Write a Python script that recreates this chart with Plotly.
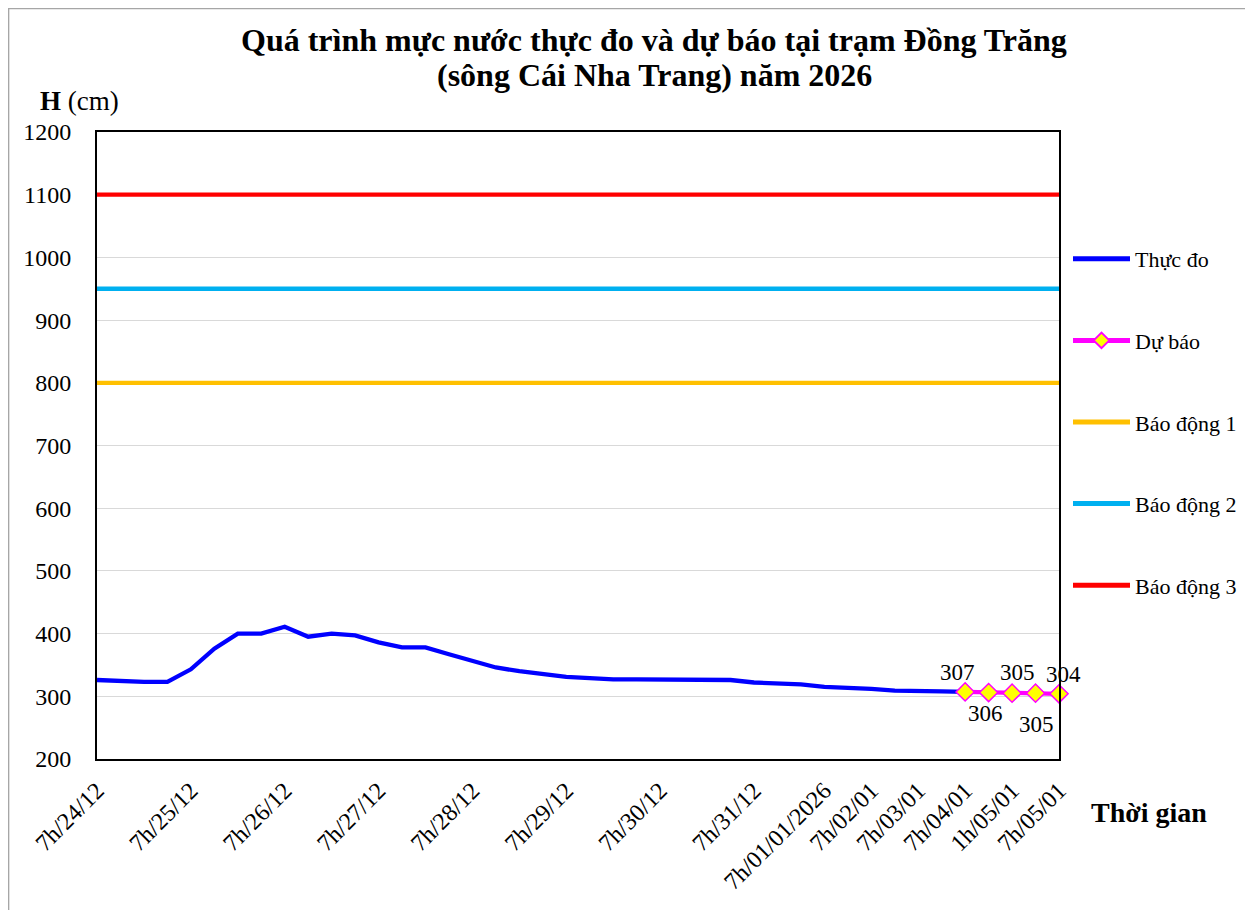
import plotly.graph_objects as go

# ---- data ----
tick_labels = ["7h/24/12", "", "", "", "7h/25/12", "", "", "", "7h/26/12", "", "", "",
               "7h/27/12", "", "", "", "7h/28/12", "", "", "", "7h/29/12", "", "", "",
               "7h/30/12", "", "", "", "7h/31/12", "", "", "7h/01/01/2026", "", "7h/02/01",
               "", "7h/03/01", "", "7h/04/01", "", "1h/05/01", "", "7h/05/01"]
observed = [326, 324, 323, 323, 343, 376, 400, 400, 411, 395, 400, 397,
            386, 378, 378, 367, 356, 346, 340, 335, 331, 329, 327, 327,
            327, 327, 326, 326, 322, 321, 319, 315, 314, 312, 309, 309,
            308, 307]
forecast = [307, 306, 305, 305, 304]
forecast_start = 37
alarm_levels = [800, 950, 1100]
alarm_names = ["Báo động 1", "Báo động 2", "Báo động 3"]
alarm_colors = ["#FFC000", "#00B0F0", "#FF0000"]

FONT = "Times New Roman, Liberation Serif, serif"
n = len(tick_labels)
x_all = list(range(n))
x_obs = x_all[:len(observed)]
x_fc = x_all[forecast_start:forecast_start + len(forecast)]

# page offset of the figure (body margin) and plot-area geometry in page pixels
OFF = 8
PL, PR, PT, PB = 97, 1060, 132, 759
PW, PH = PR - PL, PB - PT


def px(x):
    return (x - PL) / PW


def py(y):
    return (PB - y) / PH


fig = go.Figure()

fig.add_trace(go.Scatter(x=x_obs, y=observed, mode="lines", name="Thực đo",
                         line=dict(color="#0000FF", width=4.3), legendgroup="a", legendrank=1))
for i, (lv, nm, col) in enumerate(zip(alarm_levels, alarm_names, alarm_colors)):
    fig.add_trace(go.Scatter(x=[0, n - 1], y=[lv, lv], mode="lines", name=nm,
                             line=dict(color=col, width=4.3), legendgroup=f"c{i}",
                             legendrank=3 + i))
fig.add_trace(go.Scatter(x=x_fc, y=forecast, mode="lines+markers", name="Dự báo",
                         line=dict(color="#FF00FF", width=4.3),
                         marker=dict(symbol="diamond", size=14, color="#FFFF00",
                                     line=dict(color="#FF00FF", width=1.5)),
                         cliponaxis=False, legendgroup="b", legendrank=2))

# data labels for forecast (alternating above / below like the original)
label_shifts = [(-8, 19), (-3, -21), (5, 21), (1, -31), (4, 19)]
for xv, yv, (dx, dy) in zip(x_fc, forecast, label_shifts):
    fig.add_annotation(x=xv, y=yv, text=str(yv), showarrow=False, xshift=dx, yshift=dy,
                       font=dict(family=FONT, size=23, color="black"))

tickvals = [i for i, t in enumerate(tick_labels) if t]
ticktext = [t for t in tick_labels if t]

W, H = 1253 - OFF, 910 - OFF
fig.update_layout(
    width=W, height=H,
    paper_bgcolor="white", plot_bgcolor="white",
    margin=dict(l=PL - OFF, r=W - (PR - OFF), t=PT - OFF, b=H - (PB - OFF), pad=0),
    font=dict(family=FONT, size=22, color="black"),
    xaxis=dict(range=[0, n - 1], tickmode="array", tickvals=tickvals, ticktext=ticktext,
               tickangle=-45, showgrid=False, showline=True, linecolor="black",
               linewidth=2, mirror=True, ticks="", zeroline=False,
               ticklabelstandoff=6, tickfont=dict(family=FONT, size=24)),
    yaxis=dict(range=[200, 1200], dtick=100, tick0=200, showgrid=True,
               gridcolor="#D9D9D9", gridwidth=1, showline=True, linecolor="black",
               linewidth=2, mirror=True, ticks="", zeroline=False,
               ticklabelstandoff=19, tickfont=dict(family=FONT, size=24)),
    legend=dict(x=px(1068), xanchor="left", y=py(238), yanchor="top",
                font=dict(family=FONT, size=22), tracegroupgap=50,
                itemwidth=57, itemsizing="constant", bgcolor="rgba(0,0,0,0)"),
    showlegend=True,
)

# title (two centred lines)
fig.add_annotation(text="<b>Quá trình mực nước thực đo và dự báo tại trạm Đồng Trăng</b>",
                   xref="paper", yref="paper", x=px(655), y=py(40), xanchor="center",
                   yanchor="middle", showarrow=False, font=dict(family=FONT, size=32))
fig.add_annotation(text="<b>(sông Cái Nha Trang) năm 2026</b>",
                   xref="paper", yref="paper", x=px(655), y=py(75), xanchor="center",
                   yanchor="middle", showarrow=False, font=dict(family=FONT, size=32))
fig.add_annotation(text="<b>H</b> (cm)", xref="paper", yref="paper",
                   x=px(38), y=py(101), xanchor="left", yanchor="middle",
                   showarrow=False, font=dict(family=FONT, size=27))
fig.add_annotation(text="<b>Thời gian</b>", xref="paper", yref="paper",
                   x=px(1150), y=py(812), xanchor="center", yanchor="middle",
                   showarrow=False, font=dict(family=FONT, size=28))
fig.add_shape(type="rect", xref="paper", yref="paper",
              x0=px(8.5), x1=px(1290), y0=py(940), y1=py(8.5),
              line=dict(color="#A6A6A6", width=1.5), layer="below")

fig.write_html("out.html")
